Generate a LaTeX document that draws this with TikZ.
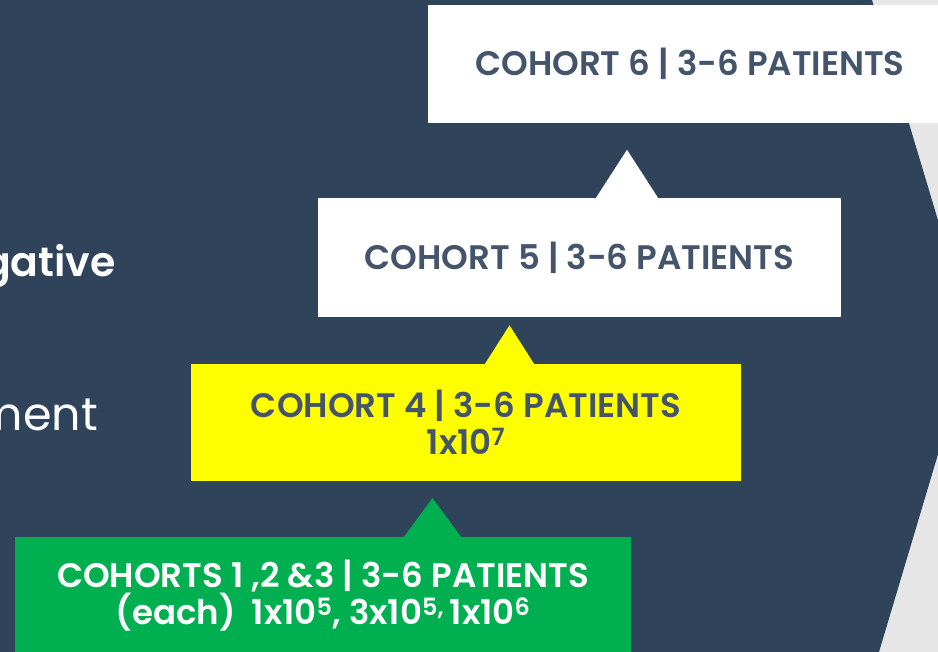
\documentclass[tikz,border=0pt]{standalone}
\usepackage{fontspec}
\setmainfont{Poppins}[BoldFont={Poppins SemiBold}]
\usetikzlibrary{positioning, calc}
\definecolor{navy}{HTML}{2F445B}
\definecolor{slate}{HTML}{44546A}
\definecolor{cohortgreen}{HTML}{00B050}
\definecolor{cohortyellow}{HTML}{FFFF00}
\definecolor{sidegray}{HTML}{E6E6E6}

\begin{document}
\begin{tikzpicture}[x=1pt, y=-1pt,
    cohort/.style={minimum width=523pt, minimum height=118pt, inner sep=0pt,
        align=center, text=slate, font=\fontsize{34}{37}\selectfont\bfseries}]
    \useasboundingbox (0,0) rectangle (938,652);
    \fill[sidegray] (0,0) rectangle (938,652);
    \fill[navy] (0,0) -- (872,0) -- (973,337) -- (879,652) -- (0,652) -- cycle;

    % words cut off at the left edge
    \node[anchor=base east, inner sep=0pt, text=white, font=\fontsize{41}{41}\selectfont\bfseries] (neg) at (116,277) {gative};
    \node[anchor=base east, inner sep=0pt, text=white, font=\fontsize{46}{46}\selectfont] (treat) at (98,431) {ment};

    % cohort boxes
    \node[cohort, fill=white, minimum width=524pt] (c6) at (690,64) {COHORT 6 | 3-6 PATIENTS};
    \node[cohort, fill=white, minimum height=119pt] (c5) at (579.5,257.5) {COHORT 5 | 3-6 PATIENTS};
    \node[cohort, fill=cohortyellow, minimum width=550pt, minimum height=117pt] (c4) at (466,422.5)
        {COHORT 4 | 3-6 PATIENTS\\1x10\textsuperscript{7}};
    \node[cohort, fill=cohortgreen, text=white, minimum width=616pt] (c123) at (323,596)
        {COHORTS 1 ,2 \&3 | 3-6 PATIENTS\\(each)\ \ 1x10\textsuperscript{5}, 3x10\textsuperscript{5,}\,1x10\textsuperscript{6}};

    % pointers
    \fill[white] ($(c5.north)+(16.5,0)$) -- ($(c5.north)+(47.5,-48)$) -- ($(c5.north)+(78.5,0)$) -- cycle;
    \fill[cohortyellow] ($(c4.north)+(19,0)$) -- ($(c4.north)+(43.5,-38.5)$) -- ($(c4.north)+(68,0)$) -- cycle;
    \fill[cohortgreen] ($(c123.north)+(81,0)$) -- ($(c123.north)+(109.5,-38.7)$) -- ($(c123.north)+(138,0)$) -- cycle;
\end{tikzpicture}
\end{document}
